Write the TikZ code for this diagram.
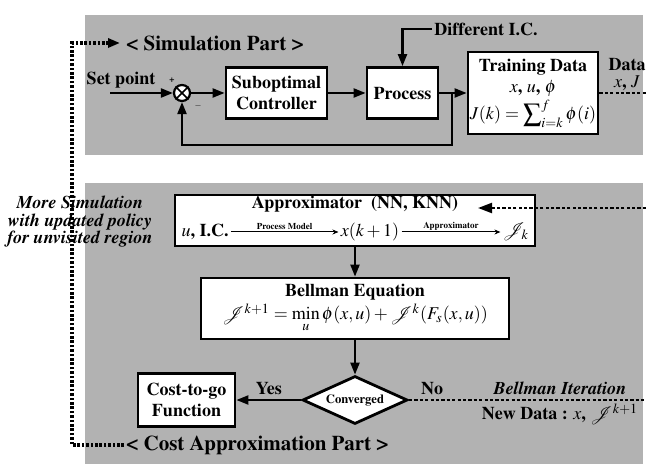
\documentclass[tikz,border=0pt]{standalone}
\usepackage[T1]{fontenc}
\usepackage{mathptmx}
\usetikzlibrary{arrows.meta,positioning,shapes.geometric}
\definecolor{panelgray}{RGB}{178,178,178}

\begin{document}
\begin{tikzpicture}[x=0.5pt,y=-0.5pt,
	block/.style={draw, line width=1.4pt, fill=white, align=center, inner sep=0pt, font=\fontsize{9}{10.5}\selectfont\bfseries},
	sumpoint/.style={circle, draw, line width=1.1pt, fill=white, minimum size=8pt, inner sep=0pt},
	decision/.style={diamond, draw, line width=1.4pt, fill=white, aspect=2.2, minimum width=52.5pt, minimum height=24pt, inner sep=0pt, font=\fontsize{6.3}{7}\selectfont\bfseries},
	lbl/.style={font=\fontsize{9}{10}\selectfont\bfseries, inner sep=1pt},
	itlbl/.style={font=\fontsize{9}{8.8}\selectfont\bfseries\itshape, inner sep=1pt, align=center},
	tinylbl/.style={font=\fontsize{4.5}{5}\selectfont\bfseries, inner sep=0.8pt},
	title/.style={font=\fontsize{10.5}{12}\selectfont\bfseries, inner sep=1pt},
	arrowline/.style={line width=1.1pt, -{Triangle[length=6pt,width=4.5pt]}},
	thinarrow/.style={line width=0.5pt, -{Stealth[length=3pt,width=2.5pt]}},
	dashline/.style={line width=1.1pt, dash pattern=on 1.6pt off 1.1pt},
	dotline/.style={line width=1.6pt, dash pattern=on 1.3pt off 0.9pt}]

	\useasboundingbox (0,0) rectangle (646,464);
	\fill[panelgray] (85,15) rectangle (643,155);
	\fill[panelgray] (85,183) rectangle (643,464);

	% simulation part
	\node[title, anchor=west] (simtitle) at (124,43) {< Simulation Part >};
	\node[lbl] (setlbl) at (121,80) {Set point};
	\coordinate (setin) at (110,93);
	\node[sumpoint] (sum) at (182,93) {};
	\draw[line width=0.8pt] (sum.north east) -- (sum.south west);
	\draw[line width=0.8pt] (sum.north west) -- (sum.south east);
	\node[tinylbl] at (172,80) {+};
	\node[tinylbl] at (198,106) {$-$};
	\node[block, minimum width=50.5pt, minimum height=25.5pt] (subopt) at (276.5,93) {Suboptimal\\Controller};
	\node[block, minimum width=35.5pt, minimum height=25.5pt] (process) at (402.5,93) {Process};
	\node[block, minimum width=65pt, minimum height=41pt] (train) at (533,93) {Training Data\\$x$, $u$, $\phi$\\[1pt]$J(k)=\displaystyle\sum\nolimits_{i=k}^{f}\phi(i)$};
	\node[lbl, anchor=west] (diffic) at (432,29) {Different I.C.};

	\draw[arrowline] (setin) -- (sum);
	\draw[arrowline] (sum) -- (subopt);
	\draw[arrowline] (subopt) -- (process);
	\draw[arrowline] (process) -- (train);
	\draw[arrowline] (diffic.west) -| (process);
	\coordinate (fbsplit) at (452,93);
	\draw[arrowline] (fbsplit) -- ++(0,52) -| (sum);

	\coordinate (dataout) at (646,93);
	\draw[dashline] (train) -- (dataout);
	\node[lbl, inner sep=0pt] at (627,64) {Data};
	\node[lbl, inner sep=0pt] at (627,83) {$x$, $J$};

	% cost approximation part
	\node[block, minimum width=180pt, minimum height=25.5pt] (approx) at (355,220.5) {};
	\node[lbl] (approxtitle) at (355,204) {Approximator\ \ (NN, KNN)};
	\node[lbl] (uic) at (205,232) {$u$, I.C.};
	\node[lbl] (xnext) at (370,232) {$x(k+1)$};
	\node[lbl] (jk) at (516,232) {$\mathcal{J}_k$};
	\draw[thinarrow] (uic) -- node[tinylbl, above] {Process Model} (xnext);
	\draw[thinarrow] (xnext) -- node[tinylbl, above] {Approximator} (jk);
	\coordinate (approxin) at (646,208);
	\coordinate (approxtip) at (478,208);
	\draw[dashline, -{Triangle[length=7pt,width=5pt]}] (approxin) -- (approxtip);

	\node[block, minimum width=154pt, minimum height=30.5pt] (bellman) at (355,308.5) {Bellman Equation\\[1pt]$\mathcal{J}^{k+1}=\min\limits_{u}\phi(x,u)+\mathcal{J}^{k}(F_s(x,u))$};
	\node[decision] (conv) at (355,400) {Converged};
	\node[block, minimum width=48.5pt, minimum height=26.5pt] (cost) at (186.5,400) {Cost-to-go\\Function};

	\draw[arrowline] (approx.south) -- (bellman.north);
	\draw[arrowline] (bellman) -- (conv);
	\draw[arrowline] (conv) -- node[lbl, above=1pt] {Yes} (cost);
	\coordinate (noout) at (646,400);
	\draw[dashline] (conv) -- (noout);
	\node[lbl] at (432,388) {No};
	\node[lbl, font=\fontsize{9}{10}\selectfont\bfseries\itshape] at (560,388) {Bellman Iteration};
	\node[lbl] at (560,414) {New Data : $x$, $\mathcal{J}^{k+1}$};

	\node[title, anchor=west] (costtitle) at (124,445) {< Cost Approximation Part >};
	\coordinate (loopcorner) at (72,43);
	\draw[dotline, -{Triangle[length=6pt,width=4.5pt]}] (costtitle.west) -| (loopcorner) -- ([xshift=-2pt]simtitle.west);
	\node[itlbl] (moresim) at (80,222) {More Simulation\\with updated policy\\for unvisited region};
\end{tikzpicture}
\end{document}
